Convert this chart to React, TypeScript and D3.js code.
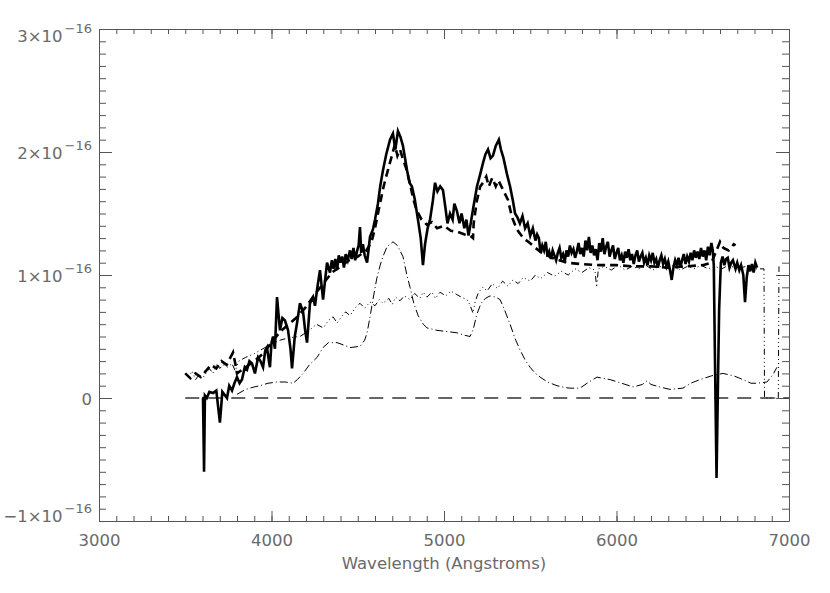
import React, { useRef, useEffect } from "react";
import * as d3 from "d3";

// flux values in units of 1e-16
const xTicks = [3000, 4000, 5000, 6000, 7000];
const yTicks = [-1, 0, 1, 2, 3];
const yTickBase = ["\u22121\u00d710", "0", "1\u00d710", "2\u00d710", "3\u00d710"];
const yTickExp = ["\u221216", "", "\u221216", "\u221216", "\u221216"];
const xTitle = "Wavelength (Angstroms)";

// observed spectrum (thick solid)
const observed: [number, number][] = [
  [3598, 0], [3603, 0.0], [3609, -0.6], [3614, 0.02], [3625, 0.0], [3640, 0.05], [3661, 0.04], [3680, 0.06],
  [3701, -0.2], [3715, 0.05], [3742, 0.0], [3755, 0.1], [3771, 0.06], [3785, 0.12], [3800, 0.17], [3815, 0.12],
  [3829, 0.15], [3845, 0.25], [3858, 0.23], [3872, 0.3], [3887, 0.28], [3904, 0.2], [3922, 0.33], [3936, 0.3],
  [3951, 0.25], [3963, 0.38], [3974, 0.41], [3985, 0.3], [3991, 0.25], [4000, 0.45], [4009, 0.5], [4020, 0.4],
  [4032, 0.82], [4049, 0.55], [4063, 0.65], [4078, 0.63], [4096, 0.55], [4110, 0.4], [4119, 0.24], [4135, 0.5],
  [4148, 0.61], [4165, 0.77], [4183, 0.7], [4195, 0.55], [4206, 0.45], [4223, 0.77], [4241, 0.82], [4252, 0.75],
  [4264, 0.88], [4281, 1.04], [4299, 0.8], [4310, 0.95], [4322, 1.1], [4339, 1.02], [4350, 1.12], [4360, 1.05],
  [4370, 1.13], [4380, 1.04], [4390, 1.16], [4400, 1.1], [4410, 1.15], [4420, 1.06], [4430, 1.17], [4442, 1.12],
  [4455, 1.2], [4465, 1.13], [4475, 1.22], [4485, 1.12], [4495, 1.19], [4505, 1.24], [4513, 1.39], [4520, 1.18],
  [4530, 1.25], [4540, 1.16], [4554, 1.1], [4571, 1.31], [4588, 1.37], [4600, 1.45], [4617, 1.58], [4630, 1.72],
  [4646, 1.85], [4665, 1.98], [4687, 2.1], [4704, 2.15], [4718, 2.02], [4733, 2.17], [4748, 2.12], [4762, 2.05],
  [4786, 1.85], [4800, 1.75], [4814, 1.72], [4830, 1.62], [4849, 1.45], [4865, 1.3], [4878, 1.08], [4890, 1.25],
  [4905, 1.38], [4919, 1.45], [4935, 1.6], [4948, 1.75], [4962, 1.68], [4978, 1.72], [4994, 1.69], [5008, 1.55],
  [5020, 1.42], [5035, 1.5], [5050, 1.45], [5060, 1.58], [5075, 1.52], [5090, 1.42], [5102, 1.5], [5118, 1.38],
  [5130, 1.45], [5142, 1.32], [5155, 1.42], [5170, 1.55], [5191, 1.72], [5210, 1.82], [5226, 1.91], [5240, 1.98],
  [5255, 2.02], [5270, 1.95], [5284, 1.97], [5300, 2.05], [5318, 2.1], [5330, 2.02], [5345, 1.95], [5365, 1.82],
  [5383, 1.72], [5400, 1.6], [5412, 1.5], [5425, 1.47], [5440, 1.42], [5455, 1.48], [5470, 1.38], [5485, 1.42],
  [5500, 1.32], [5515, 1.38], [5530, 1.28], [5540, 1.33], [5550, 1.3], [5560, 1.18], [5570, 1.24], [5580, 1.2],
  [5590, 1.27], [5600, 1.15], [5610, 1.19], [5620, 1.13], [5630, 1.2], [5640, 1.16], [5650, 1.12], [5660, 1.18],
  [5670, 1.22], [5680, 1.14], [5690, 1.17], [5700, 1.11], [5710, 1.2], [5720, 1.15], [5730, 1.24], [5740, 1.18],
  [5750, 1.21], [5760, 1.14], [5770, 1.19], [5780, 1.26], [5790, 1.17], [5800, 1.22], [5810, 1.15], [5820, 1.28],
  [5830, 1.2], [5840, 1.31], [5850, 1.18], [5860, 1.24], [5870, 1.16], [5880, 1.21], [5890, 1.12], [5900, 1.26],
  [5910, 1.19], [5920, 1.3], [5930, 1.17], [5940, 1.23], [5950, 1.27], [5960, 1.15], [5970, 1.2], [5980, 1.24],
  [5990, 1.13], [6000, 1.18], [6010, 1.22], [6020, 1.12], [6030, 1.16], [6040, 1.1], [6050, 1.19], [6060, 1.14],
  [6070, 1.21], [6080, 1.12], [6090, 1.17], [6100, 1.09], [6110, 1.16], [6120, 1.2], [6130, 1.11], [6140, 1.15],
  [6150, 1.18], [6160, 1.1], [6170, 1.14], [6180, 1.08], [6190, 1.16], [6200, 1.12], [6210, 1.18], [6220, 1.1],
  [6230, 1.13], [6240, 1.06], [6250, 1.12], [6260, 1.16], [6270, 1.09], [6280, 1.13], [6290, 1.07], [6300, 1.11],
  [6310, 1.04], [6320, 0.96], [6330, 1.06], [6340, 1.12], [6350, 1.08], [6360, 1.14], [6370, 1.06], [6380, 1.12],
  [6390, 1.17], [6400, 1.09], [6410, 1.15], [6420, 1.11], [6430, 1.18], [6440, 1.12], [6450, 1.2], [6460, 1.14],
  [6470, 1.19], [6480, 1.13], [6490, 1.22], [6500, 1.15], [6510, 1.2], [6520, 1.12], [6530, 1.23], [6540, 1.16],
  [6550, 1.26], [6558, 1.2], [6564, 1.08], [6570, 0.4], [6580, -0.65], [6588, 0.1], [6595, 0.72], [6605, 1.1],
  [6615, 1.15], [6625, 1.08], [6635, 1.13], [6645, 1.14], [6655, 1.06], [6665, 1.1], [6675, 1.12], [6690, 1.05],
  [6700, 1.1], [6712, 1.04], [6722, 1.08], [6735, 1.0], [6745, 0.78], [6755, 0.98], [6765, 1.08], [6775, 1.03],
  [6785, 1.09], [6795, 1.02], [6805, 1.1], [6815, 1.06],
];

// total model (thick dashed)
const model: [number, number][] = [
  [3500, 0.2], [3530, 0.16], [3560, 0.2], [3590, 0.17], [3620, 0.22], [3650, 0.27], [3680, 0.24], [3710, 0.3],
  [3740, 0.27], [3777, 0.37], [3790, 0.28], [3800, 0.2], [3850, 0.25], [3900, 0.3], [3950, 0.36], [4000, 0.45],
  [4050, 0.54], [4100, 0.6], [4150, 0.66], [4200, 0.74], [4250, 0.84], [4300, 0.93], [4350, 1.02], [4400, 1.07],
  [4450, 1.12], [4500, 1.15], [4550, 1.2], [4580, 1.27], [4600, 1.38], [4620, 1.52], [4650, 1.72], [4680, 1.88],
  [4700, 1.98], [4715, 2.06], [4730, 1.97], [4745, 2.02], [4760, 1.95], [4780, 1.87], [4800, 1.76], [4820, 1.63],
  [4840, 1.53], [4870, 1.45], [4900, 1.41], [4930, 1.43], [4960, 1.38], [5000, 1.4], [5040, 1.36], [5080, 1.35],
  [5120, 1.33], [5150, 1.32], [5168, 1.3], [5172, 1.42], [5190, 1.6], [5210, 1.72], [5226, 1.75], [5245, 1.8],
  [5260, 1.72], [5280, 1.79], [5300, 1.72], [5315, 1.77], [5336, 1.71], [5371, 1.61], [5394, 1.47], [5423, 1.37],
  [5460, 1.3], [5498, 1.26], [5530, 1.22], [5568, 1.18], [5626, 1.14], [5713, 1.1], [5788, 1.09], [5900, 1.08],
  [6000, 1.08], [6100, 1.07], [6200, 1.07], [6300, 1.06], [6400, 1.07], [6500, 1.08], [6550, 1.1], [6580, 1.2],
  [6600, 1.27], [6620, 1.22], [6650, 1.2], [6680, 1.25], [6690, 1.24],
];

// stellar continuum (thin dash-dot-dot-dot)
const continuum: [number, number][] = [
  [3500, 0.2], [3520, 0.17], [3540, 0.22], [3560, 0.15], [3580, 0.19], [3600, 0.16], [3620, 0.2], [3640, 0.24],
  [3660, 0.2], [3684, 0.28], [3700, 0.24], [3720, 0.27], [3745, 0.25], [3771, 0.28], [3790, 0.22], [3810, 0.3],
  [3850, 0.33], [3900, 0.36], [3950, 0.4], [4000, 0.44], [4050, 0.47], [4100, 0.49], [4165, 0.5], [4220, 0.55],
  [4260, 0.6], [4300, 0.57], [4330, 0.63], [4357, 0.66], [4380, 0.61], [4400, 0.65], [4430, 0.7], [4455, 0.67],
  [4490, 0.74], [4513, 0.77], [4540, 0.73], [4571, 0.78], [4600, 0.75], [4625, 0.8], [4646, 0.77], [4680, 0.81],
  [4700, 0.76], [4720, 0.82], [4745, 0.79], [4770, 0.83], [4803, 0.8], [4830, 0.85], [4860, 0.81], [4880, 0.86],
  [4901, 0.82], [4930, 0.86], [4950, 0.81], [4977, 0.86], [5010, 0.83], [5040, 0.87], [5075, 0.84], [5100, 0.82],
  [5133, 0.8], [5150, 0.76], [5168, 0.69], [5180, 0.78], [5200, 0.86], [5226, 0.9], [5250, 0.87], [5280, 0.93],
  [5310, 0.89], [5340, 0.95], [5370, 0.91], [5400, 0.96], [5430, 0.93], [5460, 0.98], [5500, 0.95], [5530, 1.0],
  [5560, 0.97], [5600, 1.02], [5640, 0.99], [5680, 1.03], [5720, 1.0], [5760, 1.05], [5800, 1.02], [5840, 1.06],
  [5875, 1.04], [5885, 0.9], [5895, 1.05], [5930, 1.07], [5970, 1.04], [6010, 1.08], [6050, 1.04], [6090, 1.07],
  [6130, 1.05], [6170, 1.08], [6210, 1.04], [6250, 1.07], [6290, 1.05], [6330, 1.08], [6370, 1.04], [6410, 1.07],
  [6450, 1.05], [6490, 1.08], [6530, 1.05], [6570, 1.07], [6610, 1.05], [6650, 1.08], [6700, 1.05], [6750, 1.07],
  [6800, 1.05], [6855, 1.05], [6858, 0], [6938, 0], [6942, 1.07],
];

// nebular / line component (thin dash-dot)
const emission: [number, number][] = [
  [3800, 0.03], [3850, 0.07], [3900, 0.09], [3933, 0.1], [3980, 0.12], [4032, 0.13], [4080, 0.13], [4125, 0.12],
  [4150, 0.15], [4183, 0.2], [4220, 0.27], [4264, 0.33], [4299, 0.41], [4330, 0.45], [4380, 0.45], [4420, 0.43],
  [4455, 0.41], [4513, 0.42], [4540, 0.47], [4554, 0.53], [4570, 0.65], [4588, 0.8], [4610, 0.97], [4630, 1.08],
  [4646, 1.15], [4670, 1.23], [4704, 1.27], [4730, 1.24], [4762, 1.15], [4785, 1.0], [4803, 0.9], [4825, 0.77],
  [4850, 0.67], [4880, 0.6], [4901, 0.57], [4959, 0.55], [5020, 0.54], [5075, 0.53], [5120, 0.51], [5151, 0.5],
  [5170, 0.56], [5190, 0.68], [5215, 0.77], [5240, 0.81], [5267, 0.83], [5300, 0.82], [5325, 0.8], [5350, 0.72],
  [5383, 0.6], [5410, 0.49], [5441, 0.39], [5470, 0.31], [5499, 0.25], [5530, 0.2], [5557, 0.17], [5600, 0.13],
  [5655, 0.1], [5700, 0.085], [5730, 0.08], [5788, 0.08], [5840, 0.13], [5887, 0.17], [5920, 0.16], [5962, 0.15],
  [6030, 0.12], [6096, 0.09], [6150, 0.11], [6177, 0.14], [6200, 0.11], [6250, 0.09], [6310, 0.07], [6385, 0.08],
  [6430, 0.12], [6485, 0.15], [6550, 0.18], [6617, 0.2], [6680, 0.18], [6733, 0.15], [6780, 0.12], [6814, 0.12],
  [6872, 0.13], [6907, 0.19], [6930, 0.25],
];

const zeroLine: [number, number][] = [[3500, 0], [7000, 0]];

const FONT = "'DejaVu Sans', sans-serif";
const AXIS = "#555";
const TEXT = "#6a6a6a";

export default function App() {
  const svgRef = useRef<SVGSVGElement>(null);

  useEffect(() => {
    const svg = d3.select(svgRef.current);
    svg.selectAll("*").remove();

    const left = 99, right = 789, top = 29, bottom = 521;
    const x = d3.scaleLinear().domain([3000, 7000]).range([left, right]);
    const y = d3.scaleLinear().domain([-1, 3]).range([bottom, top]);

    const minorX = d3.range(3000, 7001, 100);
    const minorY = d3.range(-10, 31).map((d) => d / 10);

    const style = (g: any) => {
      g.selectAll("line").attr("stroke", AXIS);
      g.selectAll("path").attr("stroke", AXIS);
    };
    const noDomain = (g: any) => g.select(".domain").remove();

    // minor ticks
    svg.append("g").attr("transform", `translate(0,${bottom})`)
      .call(d3.axisBottom(x).tickValues(minorX).tickSize(-5).tickFormat(() => "") as any)
      .call(noDomain).call(style);
    svg.append("g").attr("transform", `translate(0,${top})`)
      .call(d3.axisTop(x).tickValues(minorX).tickSize(-5).tickFormat(() => "") as any)
      .call(noDomain).call(style);
    svg.append("g").attr("transform", `translate(${left},0)`)
      .call(d3.axisLeft(y).tickValues(minorY).tickSize(-7).tickFormat(() => "") as any)
      .call(noDomain).call(style);
    svg.append("g").attr("transform", `translate(${right},0)`)
      .call(d3.axisRight(y).tickValues(minorY).tickSize(-7).tickFormat(() => "") as any)
      .call(noDomain).call(style);

    // major ticks
    const xb = svg.append("g").attr("transform", `translate(0,${bottom})`)
      .call(d3.axisBottom(x).tickValues(xTicks).tickSizeInner(-10).tickSizeOuter(0).tickPadding(13).tickFormat(d3.format("d")) as any)
      .call(style);
    xb.attr("font-family", FONT).attr("font-size", 16.5);
    xb.selectAll("text").attr("fill", TEXT);
    svg.append("g").attr("transform", `translate(0,${top})`)
      .call(d3.axisTop(x).tickValues(xTicks).tickSizeInner(-10).tickSizeOuter(0).tickFormat(() => "") as any)
      .call(style);
    svg.append("g").attr("transform", `translate(${left},0)`)
      .call(d3.axisLeft(y).tickValues(yTicks).tickSizeInner(-13).tickSizeOuter(0).tickFormat(() => "") as any)
      .call(style);
    svg.append("g").attr("transform", `translate(${right},0)`)
      .call(d3.axisRight(y).tickValues(yTicks).tickSizeInner(-13).tickSizeOuter(0).tickFormat(() => "") as any)
      .call(style);

    // y tick labels with exponents, kept inside the frame's vertical range
    yTicks.forEach((t, i) => {
      const base = Math.min(Math.max(y(t) + 7, top + 13), bottom + 1);
      const txt = svg.append("text")
        .attr("x", 92).attr("y", base)
        .attr("text-anchor", "end")
        .attr("font-family", FONT).attr("font-size", 16.5)
        .attr("fill", TEXT);
      txt.append("tspan").text(yTickBase[i]);
      if (yTickExp[i]) {
        txt.append("tspan").attr("dx", 2).attr("dy", -9).attr("font-size", 13).text(yTickExp[i]);
      }
    });

    svg.append("text")
      .attr("x", (left + right) / 2).attr("y", 569)
      .attr("text-anchor", "middle")
      .attr("font-family", FONT).attr("font-size", 16.5)
      .attr("fill", TEXT)
      .text(xTitle);

    const line = d3.line<[number, number]>().x((d) => x(d[0])).y((d) => y(d[1]));

    const plot = svg.append("g").attr("fill", "none");
    plot.append("path").datum(zeroLine).attr("d", line)
      .attr("stroke", "#333").attr("stroke-width", 1.3).attr("stroke-dasharray", "14 9");
    plot.append("path").datum(continuum).attr("d", line)
      .attr("stroke", "#000").attr("stroke-width", 1).attr("stroke-dasharray", "6 3 1 3 1 3 1 3");
    plot.append("path").datum(emission).attr("d", line)
      .attr("stroke", "#000").attr("stroke-width", 1).attr("stroke-dasharray", "8 3 1 3");
    plot.append("path").datum(model).attr("d", line)
      .attr("stroke", "#000").attr("stroke-width", 2.6).attr("stroke-dasharray", "8 5");
    plot.append("path").datum(observed).attr("d", line)
      .attr("stroke", "#000").attr("stroke-width", 2.6).attr("stroke-linejoin", "miter");
  }, []);

  return (
    <div style={{ position: "absolute", left: 0, top: 0, background: "#fff" }}>
      <svg ref={svgRef} width={830} height={593} />
    </div>
  );
}
